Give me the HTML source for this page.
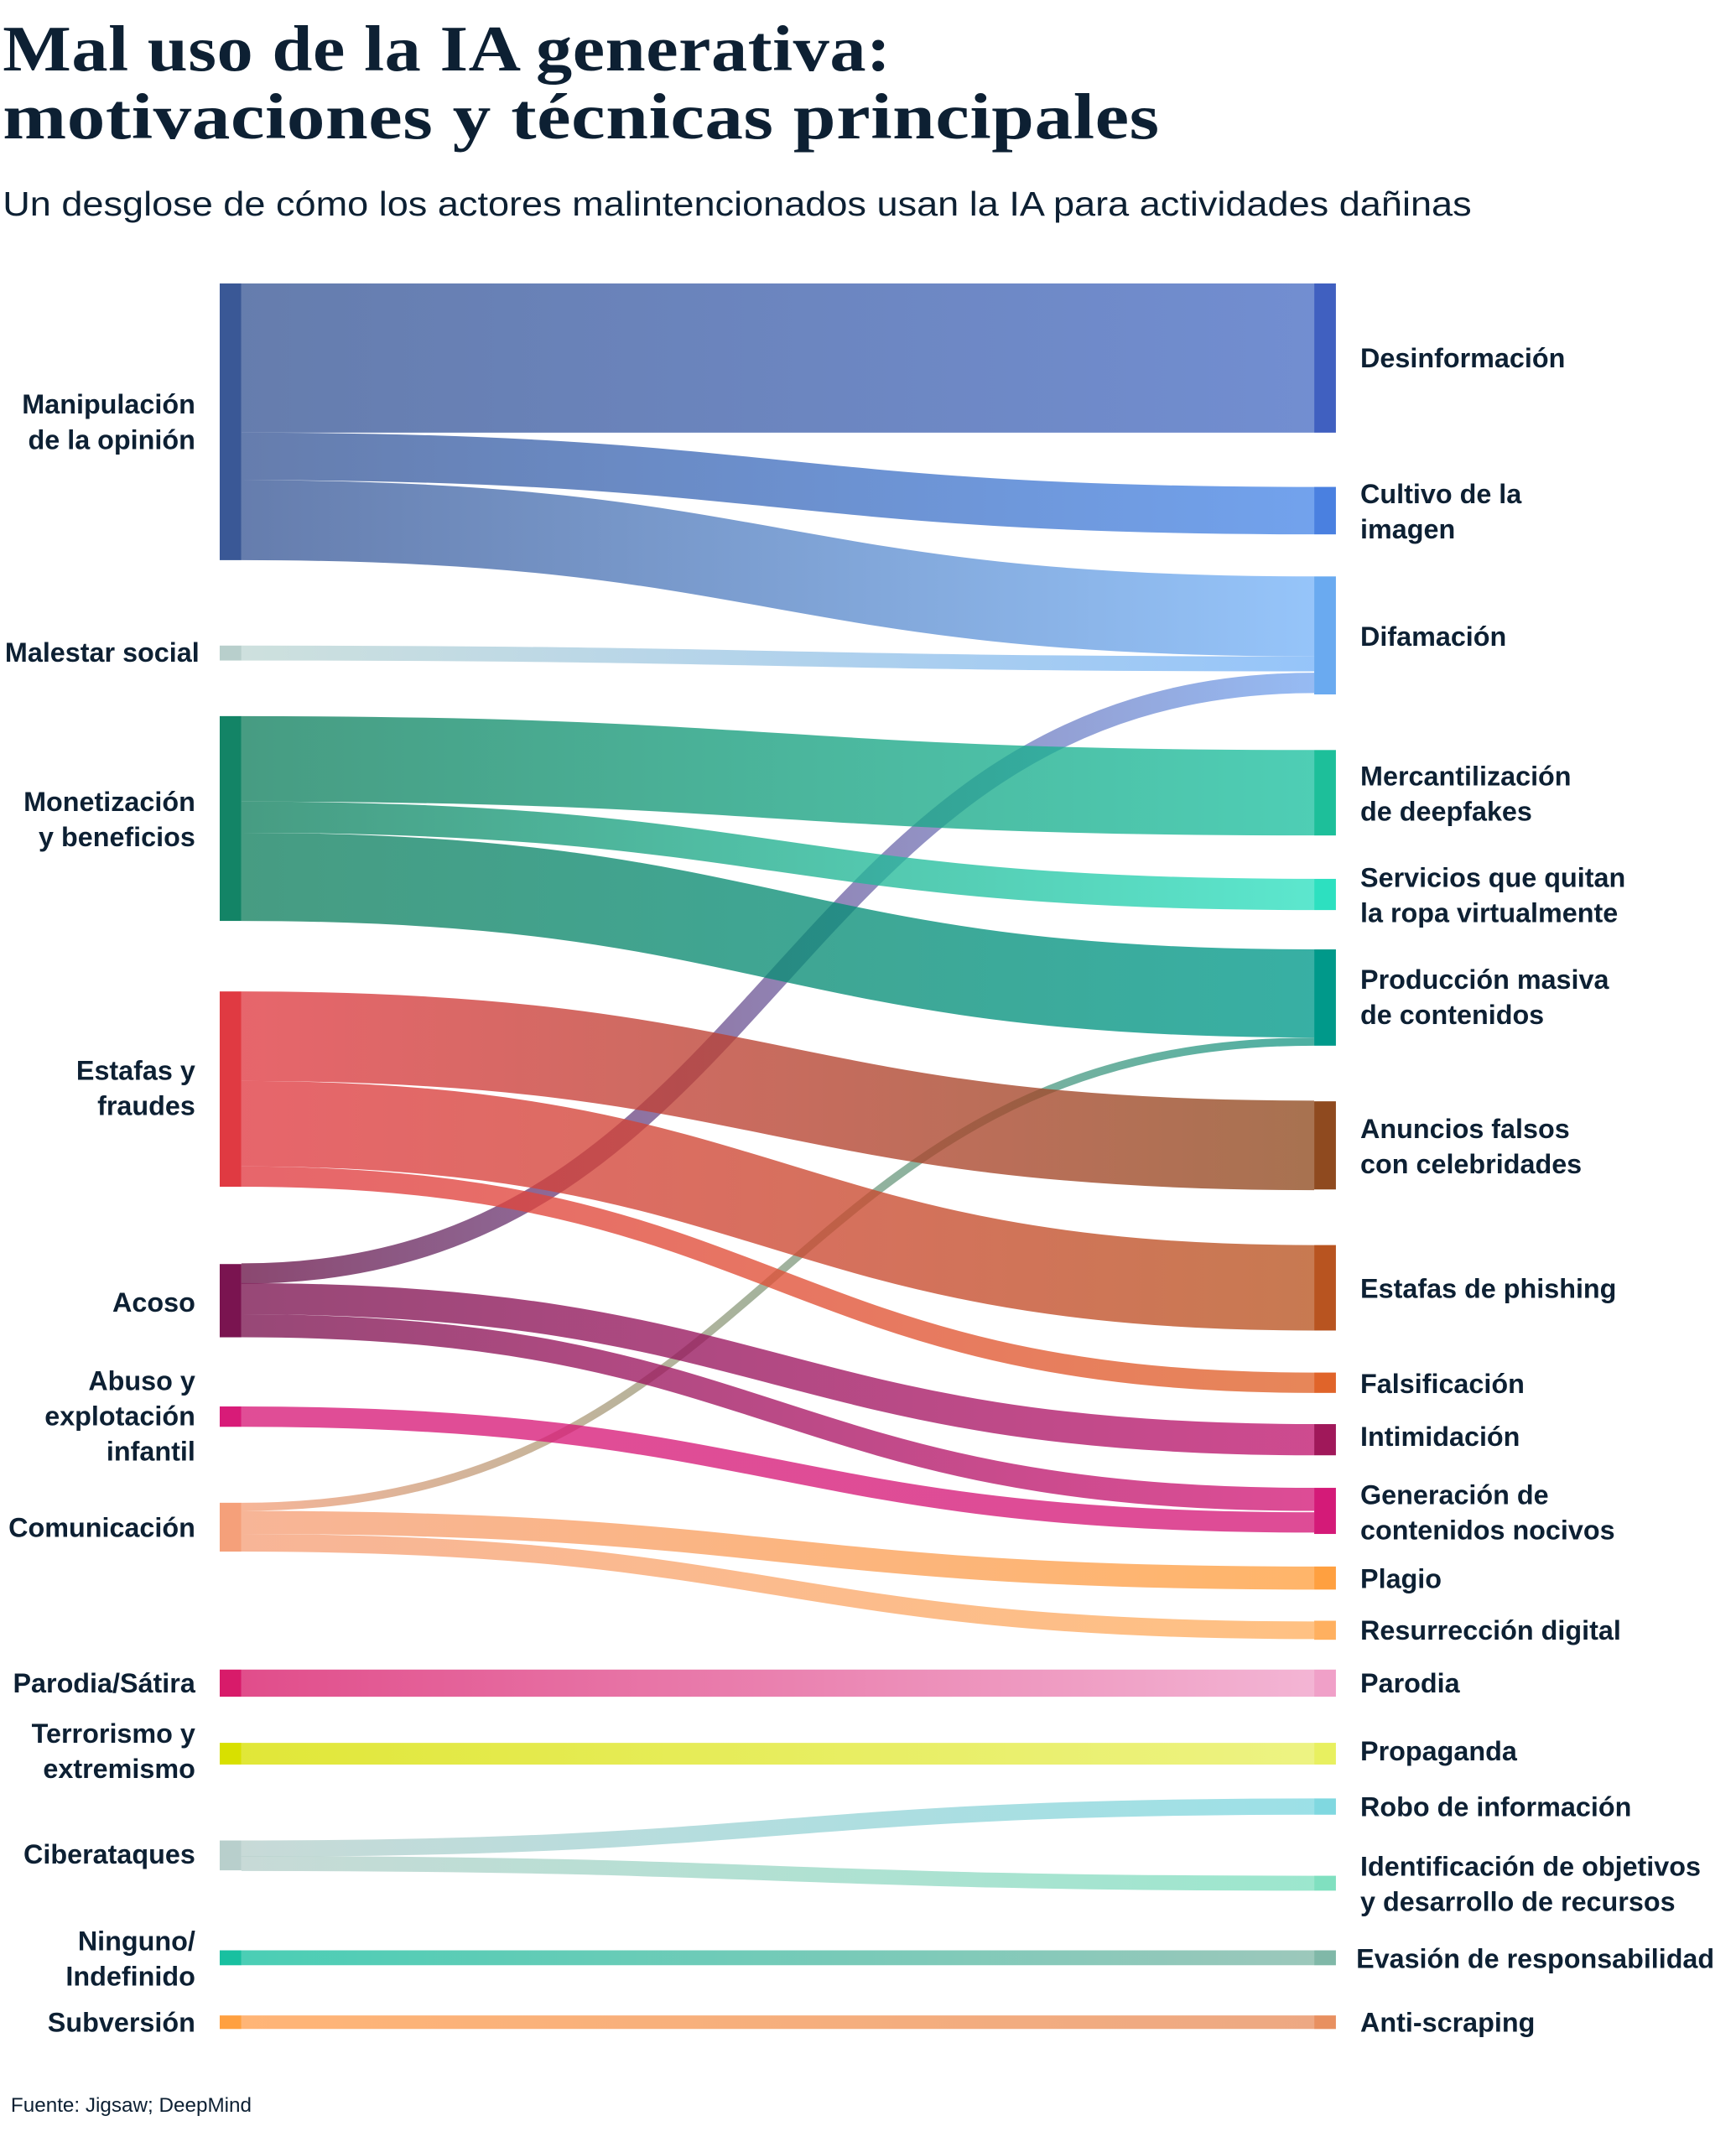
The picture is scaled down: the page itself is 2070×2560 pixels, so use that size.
<!DOCTYPE html>
<html><head><meta charset="utf-8"><style>
html,body{margin:0;padding:0;background:#fff}
svg{display:block}
.t{font-family:"Liberation Serif",serif;font-weight:bold;fill:#0d2033;letter-spacing:0.3px}
.s{font-family:"Liberation Sans",sans-serif;fill:#0d2033}
.l{font-family:"Liberation Sans",sans-serif;font-weight:bold;font-size:20px;fill:#0d2033}
</style></head><body>
<svg width="2070" height="2560" viewBox="0 0 1280 1583" xmlns="http://www.w3.org/2000/svg">
<defs>
<linearGradient id="g1" gradientUnits="userSpaceOnUse" x1="178" x2="969"><stop offset="0" stop-color="#3a5896"/><stop offset="1" stop-color="#4a6ec4"/></linearGradient>
<linearGradient id="g2" gradientUnits="userSpaceOnUse" x1="178" x2="969"><stop offset="0" stop-color="#3a5896"/><stop offset="1" stop-color="#4a88e8"/></linearGradient>
<linearGradient id="g3" gradientUnits="userSpaceOnUse" x1="178" x2="969"><stop offset="0" stop-color="#3a5896"/><stop offset="1" stop-color="#78b4f8"/></linearGradient>
<linearGradient id="g4" gradientUnits="userSpaceOnUse" x1="178" x2="969"><stop offset="0" stop-color="#c0d8d4"/><stop offset="1" stop-color="#78b4f8"/></linearGradient>
<linearGradient id="g5" gradientUnits="userSpaceOnUse" x1="178" x2="969"><stop offset="0" stop-color="#6a1448"/><stop offset="1" stop-color="#78a8f0"/></linearGradient>
<linearGradient id="g6" gradientUnits="userSpaceOnUse" x1="178" x2="969"><stop offset="0" stop-color="#13805f"/><stop offset="1" stop-color="#1dc0a0"/></linearGradient>
<linearGradient id="g7" gradientUnits="userSpaceOnUse" x1="178" x2="969"><stop offset="0" stop-color="#13805f"/><stop offset="1" stop-color="#2ee0c0"/></linearGradient>
<linearGradient id="g8" gradientUnits="userSpaceOnUse" x1="178" x2="969"><stop offset="0" stop-color="#13805f"/><stop offset="1" stop-color="#00998a"/></linearGradient>
<linearGradient id="g9" gradientUnits="userSpaceOnUse" x1="178" x2="969"><stop offset="0" stop-color="#f5a07a"/><stop offset="1" stop-color="#1a9a88"/></linearGradient>
<linearGradient id="g10" gradientUnits="userSpaceOnUse" x1="178" x2="969"><stop offset="0" stop-color="#e03a42"/><stop offset="1" stop-color="#8f4a1f"/></linearGradient>
<linearGradient id="g11" gradientUnits="userSpaceOnUse" x1="178" x2="969"><stop offset="0" stop-color="#e03a42"/><stop offset="1" stop-color="#b85420"/></linearGradient>
<linearGradient id="g12" gradientUnits="userSpaceOnUse" x1="178" x2="969"><stop offset="0" stop-color="#e03a42"/><stop offset="1" stop-color="#e0642a"/></linearGradient>
<linearGradient id="g13" gradientUnits="userSpaceOnUse" x1="178" x2="969"><stop offset="0" stop-color="#7a1450"/><stop offset="1" stop-color="#c01870"/></linearGradient>
<linearGradient id="g14" gradientUnits="userSpaceOnUse" x1="178" x2="969"><stop offset="0" stop-color="#7a1450"/><stop offset="1" stop-color="#d41a78"/></linearGradient>
<linearGradient id="g15" gradientUnits="userSpaceOnUse" x1="178" x2="969"><stop offset="0" stop-color="#d81b78"/><stop offset="1" stop-color="#d41a78"/></linearGradient>
<linearGradient id="g16" gradientUnits="userSpaceOnUse" x1="178" x2="969"><stop offset="0" stop-color="#f5a07a"/><stop offset="1" stop-color="#ffa040"/></linearGradient>
<linearGradient id="g17" gradientUnits="userSpaceOnUse" x1="178" x2="969"><stop offset="0" stop-color="#f5a07a"/><stop offset="1" stop-color="#ffb060"/></linearGradient>
<linearGradient id="g18" gradientUnits="userSpaceOnUse" x1="178" x2="969"><stop offset="0" stop-color="#d81b6a"/><stop offset="1" stop-color="#f0a0c8"/></linearGradient>
<linearGradient id="g19" gradientUnits="userSpaceOnUse" x1="178" x2="969"><stop offset="0" stop-color="#d8e000"/><stop offset="1" stop-color="#e8f060"/></linearGradient>
<linearGradient id="g20" gradientUnits="userSpaceOnUse" x1="178" x2="969"><stop offset="0" stop-color="#b8d0cc"/><stop offset="1" stop-color="#80d8e0"/></linearGradient>
<linearGradient id="g21" gradientUnits="userSpaceOnUse" x1="178" x2="969"><stop offset="0" stop-color="#b8d0cc"/><stop offset="1" stop-color="#80e0c0"/></linearGradient>
<linearGradient id="g22" gradientUnits="userSpaceOnUse" x1="178" x2="969"><stop offset="0" stop-color="#18c0a0"/><stop offset="1" stop-color="#80b8a8"/></linearGradient>
<linearGradient id="g23" gradientUnits="userSpaceOnUse" x1="178" x2="969"><stop offset="0" stop-color="#ffa050"/><stop offset="1" stop-color="#e89060"/></linearGradient>
</defs>

<text class="t" x="2" y="52" font-size="48" textLength="655" lengthAdjust="spacingAndGlyphs">Mal uso de la IA generativa:</text>
<text class="t" x="2" y="102" font-size="48" textLength="853" lengthAdjust="spacingAndGlyphs">motivaciones y técnicas principales</text>
<text class="s" x="2" y="159" font-size="25" textLength="1083" lengthAdjust="spacingAndGlyphs">Un desglose de cómo los actores malintencionados usan la IA para actividades dañinas</text>

<g fill="none" stroke-opacity="0.78">
<path d="M178,264 C573,264 573,264 969,264" stroke="url(#g1)" stroke-width="110"/>
<path d="M178,336.5 C573,336.5 573,376.5 969,376.5" stroke="url(#g2)" stroke-width="35"/>
<path d="M178,383.5 C573,383.5 573,454.5 969,454.5" stroke="url(#g3)" stroke-width="59"/>
<path d="M178,481.5 C573,481.5 573,489.5 969,489.5" stroke="url(#g4)" stroke-width="11"/>
<path d="M178,939 C573,939 573,503.5 969,503.5" stroke="url(#g5)" stroke-width="15"/>
<path d="M178,559.5 C573,559.5 573,584.5 969,584.5" stroke="url(#g6)" stroke-width="63"/>
<path d="M178,602.5 C573,602.5 573,659.5 969,659.5" stroke="url(#g7)" stroke-width="23"/>
<path d="M178,646.5 C573,646.5 573,732.5 969,732.5" stroke="url(#g8)" stroke-width="65"/>
<path d="M178,1111 C573,1111 573,768 969,768" stroke="url(#g9)" stroke-width="6"/>
<path d="M178,764 C573,764 573,844.5 969,844.5" stroke="url(#g10)" stroke-width="66"/>
<path d="M178,828.5 C573,828.5 573,949.5 969,949.5" stroke="url(#g11)" stroke-width="63"/>
<path d="M178,867.5 C573,867.5 573,1019.5 969,1019.5" stroke="url(#g12)" stroke-width="15"/>
<path d="M178,957.5 C573,957.5 573,1061.5 969,1061.5" stroke="url(#g13)" stroke-width="23"/>
<path d="M178,977.5 C573,977.5 573,1105.5 969,1105.5" stroke="url(#g14)" stroke-width="17"/>
<path d="M178,1044.5 C573,1044.5 573,1122.5 969,1122.5" stroke="url(#g15)" stroke-width="15"/>
<path d="M178,1122.5 C573,1122.5 573,1163.5 969,1163.5" stroke="url(#g16)" stroke-width="17"/>
<path d="M178,1137.5 C573,1137.5 573,1202 969,1202" stroke="url(#g17)" stroke-width="13"/>
<path d="M178,1241 L969,1241" stroke="url(#g18)" stroke-width="20"/>
<path d="M178,1293 L969,1293" stroke="url(#g19)" stroke-width="16"/>
<path d="M178,1363 C573,1363 573,1332 969,1332" stroke="url(#g20)" stroke-width="12"/>
<path d="M178,1374 C573,1374 573,1388.5 969,1388.5" stroke="url(#g21)" stroke-width="11"/>
<path d="M178,1443.5 L969,1443.5" stroke="url(#g22)" stroke-width="11"/>
<path d="M178,1491 L969,1491" stroke="url(#g23)" stroke-width="10"/>
</g>

<g>
<rect x="162" y="209" width="16" height="204" fill="#3a5896"/>
<rect x="162" y="476" width="16" height="11" fill="#b8cfcc"/>
<rect x="162" y="528" width="16" height="151" fill="#138466"/>
<rect x="162" y="731" width="16" height="144" fill="#e03a42"/>
<rect x="162" y="932" width="16" height="54" fill="#7a1450"/>
<rect x="162" y="1037" width="16" height="15" fill="#d81b78"/>
<rect x="162" y="1108" width="16" height="36" fill="#f5a07a"/>
<rect x="162" y="1231" width="16" height="20" fill="#d81b6a"/>
<rect x="162" y="1285" width="16" height="16" fill="#d8e000"/>
<rect x="162" y="1357" width="16" height="22" fill="#b8cfcc"/>
<rect x="162" y="1438" width="16" height="11" fill="#18c0a0"/>
<rect x="162" y="1486" width="16" height="10" fill="#ffa040"/>

<rect x="969" y="209" width="16" height="110" fill="#4060c0"/>
<rect x="969" y="359" width="16" height="35" fill="#4a80e0"/>
<rect x="969" y="425" width="16" height="87" fill="#6aaaf0"/>
<rect x="969" y="553" width="16" height="63" fill="#1dbf9a"/>
<rect x="969" y="648" width="16" height="23" fill="#2de0c0"/>
<rect x="969" y="700" width="16" height="71" fill="#00998a"/>
<rect x="969" y="812" width="16" height="65" fill="#8f4a1f"/>
<rect x="969" y="918" width="16" height="63" fill="#b85420"/>
<rect x="969" y="1012" width="16" height="15" fill="#e0642a"/>
<rect x="969" y="1050" width="16" height="23" fill="#a0185a"/>
<rect x="969" y="1097" width="16" height="34" fill="#d41a78"/>
<rect x="969" y="1155" width="16" height="17" fill="#ffa040"/>
<rect x="969" y="1195" width="16" height="14" fill="#ffb060"/>
<rect x="969" y="1231" width="16" height="20" fill="#f0a0c8"/>
<rect x="969" y="1285" width="16" height="16" fill="#e8f060"/>
<rect x="969" y="1326" width="16" height="12" fill="#80d8e0"/>
<rect x="969" y="1383" width="16" height="11" fill="#80e0c0"/>
<rect x="969" y="1438" width="16" height="11" fill="#80b8a8"/>
<rect x="969" y="1486" width="16" height="10" fill="#e89060"/>
</g>

<g class="l" text-anchor="end">
<text x="144" y="305">Manipulación</text><text x="144" y="331">de la opinión</text>
<text x="147" y="488">Malestar social</text>
<text x="144" y="598">Monetización</text><text x="144" y="624">y beneficios</text>
<text x="144" y="796">Estafas y</text><text x="144" y="822">fraudes</text>
<text x="144" y="967">Acoso</text>
<text x="144" y="1025">Abuso y</text><text x="144" y="1051">explotación</text><text x="144" y="1077">infantil</text>
<text x="144" y="1133">Comunicación</text>
<text x="144" y="1248">Parodia/Sátira</text>
<text x="144" y="1285">Terrorismo y</text><text x="144" y="1311">extremismo</text>
<text x="144" y="1374">Ciberataques</text>
<text x="144" y="1438">Ninguno/</text><text x="144" y="1464">Indefinido</text>
<text x="144" y="1498">Subversión</text>
</g>
<g class="l">
<text x="1003" y="271">Desinformación</text>
<text x="1003" y="371">Cultivo de la</text><text x="1003" y="397">imagen</text>
<text x="1003" y="476">Difamación</text>
<text x="1003" y="579">Mercantilización</text><text x="1003" y="605">de deepfakes</text>
<text x="1003" y="654">Servicios que quitan</text><text x="1003" y="680">la ropa virtualmente</text>
<text x="1003" y="729">Producción masiva</text><text x="1003" y="755">de contenidos</text>
<text x="1003" y="839">Anuncios falsos</text><text x="1003" y="865">con celebridades</text>
<text x="1003" y="957">Estafas de phishing</text>
<text x="1003" y="1027">Falsificación</text>
<text x="1003" y="1066">Intimidación</text>
<text x="1003" y="1109">Generación de</text><text x="1003" y="1135">contenidos nocivos</text>
<text x="1003" y="1171">Plagio</text>
<text x="1003" y="1209">Resurrección digital</text>
<text x="1003" y="1248">Parodia</text>
<text x="1003" y="1298">Propaganda</text>
<text x="1003" y="1339">Robo de información</text>
<text x="1003" y="1383">Identificación de objetivos</text><text x="1003" y="1409">y desarrollo de recursos</text>
<text x="1000" y="1451" textLength="264" lengthAdjust="spacingAndGlyphs">Evasión de responsabilidad</text>
<text x="1003" y="1498">Anti-scraping</text>
</g>
<text class="s" x="8" y="1557" font-size="15">Fuente: Jigsaw; DeepMind</text>
</svg>
</body></html>
